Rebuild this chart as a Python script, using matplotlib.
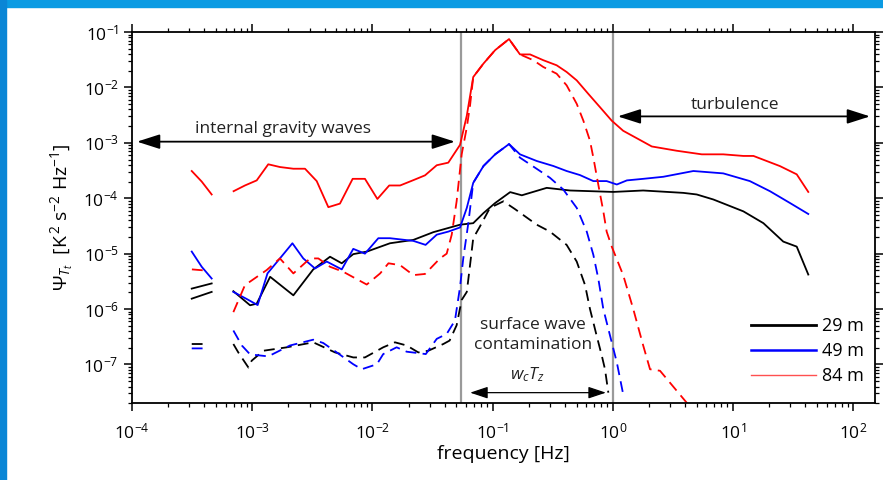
import numpy as np
import matplotlib
matplotlib.use("Agg")
import matplotlib.pyplot as plt
from matplotlib.lines import Line2D
from matplotlib.patches import Rectangle

plt.rcParams["font.family"] = ["Open Sans", "DejaVu Sans"]
plt.rcParams["mathtext.fontset"] = "custom"
plt.rcParams["mathtext.rm"] = "Open Sans"
plt.rcParams["mathtext.it"] = "Open Sans:italic"
plt.rcParams["mathtext.bf"] = "Open Sans:bold"

nan = np.nan

# 84 m, solid
f_84 = [3.14e-4, 3.8e-4, 4.6e-4, nan, 7.0e-4, 8.7e-4, 1.09e-3, 1.36e-3, 1.70e-3, 2.20e-3, 2.75e-3,
        3.44e-3, 4.30e-3, 5.37e-3, 6.85e-3, 8.67e-3, 1.10e-2, 1.38e-2, 1.70e-2, 2.19e-2, 2.74e-2,
        3.43e-2, 4.28e-2, 5.36e-2, 6.1e-2, 6.9e-2, 8.4e-2, 0.105, 0.137, 0.169, 0.205, 0.264, 0.341,
        0.413, 0.501, 0.625, 0.783, 0.98, 1.22, 1.63, 2.11, 3.40, 5.50, 8.30, 12.2, 14.8, 24.6, 33.9, 42.3]
psi_84 = [3.1e-4, 2.0e-4, 1.17e-4, nan, 1.34e-4, 1.70e-4, 2.10e-4, 4.1e-4, 3.66e-4, 3.41e-4, 3.41e-4,
          2.04e-4, 6.9e-5, 8.0e-5, 2.24e-4, 2.24e-4, 9.7e-5, 1.70e-4, 1.70e-4, 2.12e-4, 2.59e-4,
          3.94e-4, 4.39e-4, 9.2e-4, 3.1e-3, 1.54e-2, 2.70e-2, 4.71e-2, 7.46e-2, 3.94e-2, 3.94e-2, 3.10e-2, 2.51e-2,
          1.90e-2, 1.34e-2, 7.67e-3, 4.39e-3, 2.51e-3, 1.65e-3, 1.17e-3, 8.6e-4, 7.2e-4, 6.2e-4, 6.2e-4, 5.8e-4,
          5.8e-4, 3.8e-4, 2.7e-4, 1.30e-4]

# 84 m, dashed
f_84d = [3.15e-4, 3.9e-4, nan, 6.97e-4, 8.7e-4, 1.32e-3, 1.70e-3, 2.2e-3, 3.03e-3, 3.55e-3, 4.44e-3,
         5.73e-3, 8.97e-3, 1.16e-2, 1.36e-2, 1.70e-2, 2.19e-2, 2.74e-2, 3.65e-2, 4.15e-2, 4.57e-2,
         5.02e-2, 5.53e-2, 6.1e-2, 6.49e-2, 6.9e-2, 8.4e-2, 0.105, 0.137, 0.169, 0.218, 0.264, 0.341,
         0.413, 0.501, 0.569, 0.646, 0.689, 0.757, 0.834, 0.889, 0.98, 1.22, 1.48, 1.79, 2.04, 2.47, 4.12, 4.8]
psi_84d = [5.2e-6, 5.0e-6, nan, 8.8e-7, 2.7e-6, 5.06e-6, 8.2e-6, 4.4e-6, 8.2e-6, 8.2e-6, 5.8e-6,
           4.7e-6, 2.77e-6, 4.4e-6, 6.7e-6, 6.2e-6, 4.1e-6, 4.3e-6, 8.2e-6, 1.0e-5, 2.2e-5,
           8.8e-5, 6.2e-4, 1.9e-3, 4.7e-3, 1.54e-2, 2.70e-2, 4.71e-2, 7.46e-2, 3.94e-2, 3.1e-2, 2.34e-2, 1.77e-2,
           1.09e-2, 5.06e-3, 2.51e-3, 1.09e-3, 5.4e-4, 1.77e-4, 5.8e-5, 2.5e-5, 1.34e-5, 4.1e-6, 1.0e-6,
           2.2e-7, 8.2e-8, 7.7e-8, 2.04e-8, 1.2e-8]

# 49 m, solid
f_49 = [3.14e-4, 3.8e-4, 4.6e-4, nan, 6.97e-4, 9.0e-4, 1.11e-3, 1.34e-3, 1.70e-3, 2.16e-3, 2.66e-3,
        3.33e-3, 4.17e-3, 5.56e-3, 6.93e-3, 8.67e-3, 1.12e-2, 1.40e-2, 2.19e-2, 2.77e-2, 3.43e-2,
        4.28e-2, 5.36e-2, 6.1e-2, 6.9e-2, 8.4e-2, 0.105, 0.137, 0.169, 0.233, 0.32, 0.413, 0.533,
        0.689, 0.889, 1.08, 1.31, 1.79, 2.63, 4.68, 8.3, 13.8, 20.3, 29.8, 42.3]
psi_49 = [1.09e-5, 5.8e-6, 3.56e-6, nan, 2.04e-6, 1.52e-6, 1.18e-6, 4.4e-6, 8.2e-6, 1.54e-5, 8.2e-6,
          5.4e-6, 7.2e-6, 5.2e-6, 1.22e-5, 1.0e-5, 1.9e-5, 1.9e-5, 1.70e-5, 1.44e-5, 2.2e-5,
          2.5e-5, 2.97e-5, 6.7e-5, 1.90e-4, 3.82e-4, 6.2e-4, 9.5e-4, 6.2e-4, 4.7e-4, 3.82e-4, 3.1e-4, 2.62e-4,
          2.04e-4, 2.04e-4, 1.77e-4, 2.1e-4, 2.24e-4, 2.44e-4, 3.1e-4, 2.81e-4, 2.04e-4, 1.34e-4, 8.2e-5, 5.2e-5]

# 49 m, dashed
f_49d = [3.14e-4, 3.9e-4, nan, 6.97e-4, 8.2e-4, 9.6e-4, 1.36e-3, 2.06e-3, 3.22e-3, 3.9e-3, 5.05e-3,
         6.93e-3, 8.15e-3, 1.09e-2, 1.23e-2, 1.59e-2, 1.93e-2, 2.78e-2, 3.43e-2, 4.15e-2, 4.86e-2,
         5.36e-2, 5.7e-2, 6.28e-2, 6.9e-2, 8.4e-2, 0.105, 0.137, 0.169, 0.248, 0.30, 0.387, 0.501,
         0.607, 0.689, 0.757, 0.834, 0.949, 1.08, 1.22]
psi_49d = [1.95e-7, 1.95e-7, nan, 4.1e-7, 2.2e-7, 1.52e-7, 1.40e-7, 2.2e-7, 2.8e-7, 2.44e-7, 1.65e-7,
           1.01e-7, 8.2e-8, 1.01e-7, 1.54e-7, 2.04e-7, 1.70e-7, 1.54e-7, 2.9e-7, 3.56e-7, 6.2e-7,
           2.51e-6, 8.2e-6, 3.55e-5, 1.9e-4, 3.82e-4, 6.2e-4, 9.5e-4, 5.4e-4, 3.1e-4, 2.34e-4, 1.44e-4, 6.7e-5,
           2.5e-5, 9.5e-6, 3.56e-6, 1.0e-6, 3.3e-7, 1.09e-7, 2.9e-8]

# 29 m, solid
f_29 = [3.14e-4, 4.6e-4, nan, 3.14e-4, 4.6e-4, nan, 6.97e-4, 9.6e-4, 1.09e-3, 1.41e-3, 2.20e-3, 3.22e-3,
        4.44e-3, 5.56e-3, 6.93e-3, 9.0e-3, 1.40e-2, 2.19e-2, 3.21e-2, 5.36e-2, 6.9e-2, 8.4e-2, 0.105,
        0.14, 0.175, 0.282, 0.44, 1.01, 1.79, 3.86, 4.99, 6.86, 12.2, 17.9, 26.2, 33.9, 42.3]
psi_29 = [2.34e-6, 2.9e-6, nan, 1.54e-6, 2.04e-6, nan, 2.1e-6, 1.17e-6, 1.25e-6, 3.82e-6, 1.77e-6, 5.2e-6,
          8.8e-6, 6.7e-6, 9.8e-6, 1.09e-5, 1.54e-5, 1.77e-5, 2.44e-5, 3.33e-5, 3.55e-5, 5.4e-5, 8.2e-5,
          1.29e-4, 1.13e-4, 1.54e-4, 1.38e-4, 1.30e-4, 1.38e-4, 1.25e-4, 1.17e-4, 9.5e-5, 5.8e-5, 3.55e-5,
          1.65e-5, 1.34e-5, 4.2e-6]

# 29 m, dashed
f_29d = [3.14e-4, 3.9e-4, nan, 6.97e-4, 7.66e-4, 9.3e-4, 9.9e-4, 1.24e-3, 1.94e-3, 3.22e-3, 4.89e-3,
         6.93e-3, 8.67e-3, 1.23e-2, 1.54e-2, 1.93e-2, 2.41e-2, 2.92e-2, 3.89e-2, 4.39e-2, 5.02e-2,
         5.53e-2, 6.1e-2, 6.49e-2, 6.9e-2, 7.85e-2, 9.5e-2, 0.123, 0.153, 0.233, 0.30, 0.413, 0.501,
         0.588, 0.646, 0.734, 0.81, 0.861, 0.918]
psi_29d = [2.34e-7, 2.34e-7, nan, 2.34e-7, 1.65e-7, 8.8e-8, 1.17e-7, 1.77e-7, 2.04e-7, 2.51e-7, 1.65e-7,
           1.34e-7, 1.34e-7, 2.04e-7, 2.51e-7, 2.2e-7, 1.65e-7, 1.77e-7, 2.34e-7, 2.7e-7, 5.1e-7,
           1.46e-6, 2.04e-6, 6.2e-6, 1.9e-5, 3.1e-5, 6.7e-5, 8.8e-5, 6.4e-5, 3.33e-5, 2.5e-5, 1.44e-5, 7.2e-6,
           2.7e-6, 1.0e-6, 3.3e-7, 1.44e-7, 8.2e-8, 3.1e-8]

band_edges = [0.0546, 1.0]
depths = ["29 m", "49 m", "84 m"]
colors = ["black", "#0000ff", "#ff0000"]

fig = plt.figure(figsize=(8.83, 4.8), dpi=100)
fig.patches.append(Rectangle((0, 0.985), 1, 0.015, transform=fig.transFigure, color="#0b9be3", zorder=0))
fig.patches.append(Rectangle((0, 0), 0.007, 1, transform=fig.transFigure, color="#0a86d6", zorder=0))

ax = fig.add_axes([0.1495, 0.160, 0.8415, 0.7733])
ax.set_xscale("log")
ax.set_yscale("log")

dash = (0, (6, 3.5))
lw = 1.3
ax.plot(f_29, psi_29, color=colors[0], lw=lw)
ax.plot(f_29d, psi_29d, color=colors[0], lw=lw, ls=dash)
ax.plot(f_49, psi_49, color=colors[1], lw=lw)
ax.plot(f_49d, psi_49d, color=colors[1], lw=lw, ls=dash)
ax.plot(f_84, psi_84, color=colors[2], lw=lw)
ax.plot(f_84d, psi_84d, color=colors[2], lw=lw, ls=dash)

for xe in band_edges:
    ax.axvline(xe, color="#9a9a9a", lw=1.6, zorder=1)

ax.set_xlim(1e-4, 152)
ax.set_ylim(2e-8, 1e-1)

arrow_big = dict(arrowstyle="<|-|>,head_length=1.0,head_width=0.32", color="black", lw=1.3,
                 shrinkA=0, shrinkB=0, mutation_scale=14)
ax.annotate("", xy=(1.1e-4, 1.05e-3), xytext=(4.86e-2, 1.05e-3), arrowprops=arrow_big)
ax.annotate("", xy=(1.1, 3.0e-3), xytext=(138, 3.0e-3), arrowprops=arrow_big)
arrow_small = dict(arrowstyle="<|-|>,head_length=0.9,head_width=0.3", color="black", lw=0.9,
                   shrinkA=0, shrinkB=0, mutation_scale=12)
ax.annotate("", xy=(0.065, 3.1e-8), xytext=(0.877, 3.1e-8), arrowprops=arrow_small)

tfs = 12.5
ax.text(1.8e-3, 1.8e-3, "internal gravity waves", fontsize=tfs, ha="center", va="center", color="#222222")
ax.text(10.4, 4.9e-3, "turbulence", fontsize=tfs, ha="center", va="center", color="#222222")
ax.text(0.217, 3.4e-7, "surface wave\ncontamination", fontsize=tfs, ha="center", va="center",
        color="#222222", linespacing=1.3)
ax.text(0.193, 6.6e-8, r"$w_cT_z$", fontsize=tfs, ha="center", va="center", color="#222222")

handles = [Line2D([], [], color=colors[0], lw=2.0),
           Line2D([], [], color=colors[1], lw=1.8),
           Line2D([], [], color="#ff5050", lw=1.0)]
ax.legend(handles, depths, loc="lower right", bbox_to_anchor=(0.99, 0.038), frameon=False,
          fontsize=13, handlelength=3.6, handletextpad=0.35, labelspacing=0.4, borderaxespad=0, borderpad=0.2)

ax.tick_params(which="both", direction="out", top=True, right=True, labelsize=12.5, width=1.1)
ax.tick_params(which="major", length=6)
ax.tick_params(which="minor", length=3, width=0.9)
ax.set_xticks([1e-4, 1e-3, 1e-2, 1e-1, 1e0, 1e1, 1e2])
ax.set_yticks([1e-7, 1e-6, 1e-5, 1e-4, 1e-3, 1e-2, 1e-1])
ax.tick_params(axis="x", pad=8)
for sp in ax.spines.values():
    sp.set_linewidth(1.3)

ax.set_xlabel("frequency [Hz]", fontsize=14, labelpad=2)
ax.set_ylabel(r"$\Psi_{T_t}$  [K$^{\,2}$ s$^{-2}$ Hz$^{-1}$]", fontsize=14, labelpad=6)

fig.savefig("out.png", dpi=100)
